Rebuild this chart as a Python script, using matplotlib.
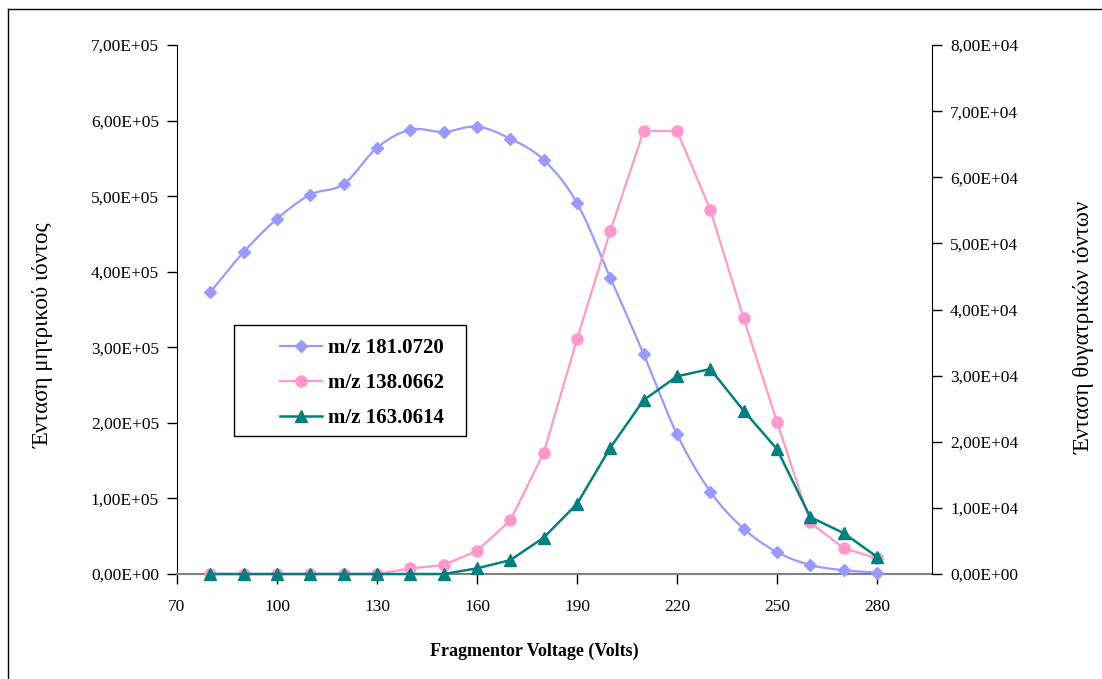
import numpy as np
import matplotlib
matplotlib.use("Agg")
import matplotlib.pyplot as plt
from matplotlib.lines import Line2D
from matplotlib.patches import Rectangle
from matplotlib.ticker import FuncFormatter

plt.rcParams['font.family'] = ['Liberation Serif', 'DejaVu Serif']

# Fragmentor voltage (V)
voltage = [80, 90, 100, 110, 120, 130, 140, 150, 160, 170, 180,
           190, 200, 210, 220, 230, 240, 250, 260, 270, 280]

# Parent ion intensity (left axis)
parent_181 = [3.73e5, 4.26e5, 4.70e5, 5.02e5, 5.16e5, 5.64e5, 5.88e5, 5.85e5,
              5.92e5, 5.76e5, 5.48e5, 4.91e5, 3.92e5, 2.91e5, 1.85e5, 1.09e5,
              0.60e5, 0.29e5, 0.12e5, 0.05e5, 0.02e5]

# Daughter ion intensities (right axis)
daughter_138 = [0, 0, 0, 0, 0, 0, 860, 1360, 3500, 8100, 18300, 35500,
                51900, 67000, 67000, 55100, 38700, 23000, 7800, 3900, 2400]
daughter_163 = [0, 0, 0, 0, 0, 0, 0, 0, 860, 2100, 5500, 10600, 19100,
                26300, 29900, 31000, 24700, 18900, 8600, 6200, 2600]

labels = ["m/z 181.0720", "m/z 138.0662", "m/z 163.0614"]
colors = ["#9999FF", "#FF99CC", "#008080"]

W, H = 1102, 679


def smooth_curve(x, y, n=20):
    """Catmull-Rom spline through the points (Excel-style smoothed line)."""
    x = np.asarray(x, float)
    y = np.asarray(y, float)
    px = np.concatenate([[2 * x[0] - x[1]], x, [2 * x[-1] - x[-2]]])
    py = np.concatenate([[2 * y[0] - y[1]], y, [2 * y[-1] - y[-2]]])
    xs, ys = [], []
    t = np.linspace(0, 1, n, endpoint=False)
    for i in range(1, len(px) - 2):
        for P, out in ((px, xs), (py, ys)):
            p0, p1, p2, p3 = P[i - 1], P[i], P[i + 1], P[i + 2]
            out.extend(0.5 * ((2 * p1) + (-p0 + p2) * t
                              + (2 * p0 - 5 * p1 + 4 * p2 - p3) * t ** 2
                              + (-p0 + 3 * p1 - 3 * p2 + p3) * t ** 3))
    xs.append(x[-1])
    ys.append(y[-1])
    return np.array(xs), np.array(ys)


def sci_comma(v, pos):
    s = "%.2E" % v
    mant, exp = s.split("E")
    return "%sE%s%02d" % (mant.replace(".", ","), exp[0], abs(int(exp)))


fig = plt.figure(figsize=(W / 100, H / 100), dpi=100)
ax1 = fig.add_axes([0.1606, 0.1546, 0.8457 - 0.1606, 0.9337 - 0.1546])
ax2 = ax1.twinx()

# Parent ion: smoothed line with diamond markers
sx, sy = smooth_curve(voltage, parent_181)
ax1.plot(sx, sy, color=colors[0], lw=1.6, clip_on=False, zorder=2)
ax1.plot(voltage, parent_181, ls="none", marker="D", ms=6.5, color=colors[0],
         clip_on=False, zorder=3)

# Daughter ions
ax2.plot(voltage, daughter_138, color=colors[1], lw=1.6, marker="o", ms=8,
         clip_on=False, zorder=3)
ax2.plot(voltage, daughter_163, color=colors[2], lw=1.8, marker="^", ms=8.5,
         clip_on=False, zorder=4)

ax1.set_xlim(70, 296.5)
ax1.set_xticks(np.arange(70, 281, 30))
ax1.set_ylim(0, 7e5)
ax1.set_yticks(np.arange(0, 7.01e5, 1e5))
ax2.set_ylim(0, 8e4)
ax2.set_yticks(np.arange(0, 8.01e4, 1e4))
ax1.yaxis.set_major_formatter(FuncFormatter(sci_comma))
ax2.yaxis.set_major_formatter(FuncFormatter(sci_comma))

for ax in (ax1, ax2):
    ax.spines['top'].set_visible(False)
    ax.tick_params(labelsize=12.5, length=7, width=1, color="#000000",
                   direction="out", pad=6)
    ax.set_facecolor("none")
ax1.spines['right'].set_visible(False)
ax2.spines['left'].set_visible(False)
ax2.spines['bottom'].set_visible(False)
ax1.spines['bottom'].set_color("#808080")
ax1.spines['bottom'].set_linewidth(1.5)
ax1.tick_params(axis="x", pad=11)

ax1.set_xlabel("Fragmentor Voltage (Volts)", fontsize=13, fontweight="bold")
ax1.xaxis.set_label_coords(0.473, -0.13)
ax1.set_ylabel("Ένταση μητρικού ιόντος", fontsize=16.5)
ax2.set_ylabel("Ένταση θυγατρικών ιόντων", fontsize=16.5)
ax1.yaxis.set_label_coords(-0.163, 0.452)
ax2.yaxis.set_label_coords(1.188, 0.466)

# Legend: framed box with entries placed inside it
box_l, box_t, box_r, box_b = 234, 325, 466, 436
fig.add_artist(Rectangle((box_l / W, 1 - box_b / H), (box_r - box_l) / W,
                         (box_b - box_t) / H, transform=fig.transFigure,
                         facecolor="white", edgecolor="#000000", lw=1.0,
                         zorder=9))
handles = [
    Line2D([], [], color=colors[0], lw=1.6, marker="D", ms=6.5),
    Line2D([], [], color=colors[1], lw=1.6, marker="o", ms=8),
    Line2D([], [], color=colors[2], lw=1.8, marker="^", ms=8.5),
]
leg = fig.legend(handles, labels, loc="center left",
                 bbox_to_anchor=(280 / W, 1 - 383 / H), frameon=False,
                 handlelength=2.0, labelspacing=0.72, borderpad=0,
                 borderaxespad=0, handletextpad=0.3,
                 prop={"weight": "bold", "size": 15})
leg.set_zorder(10)

# Outer frame lines along the left and top edges
fig.add_artist(Line2D([8 / W, 8 / W], [0, 1 - 9 / H],
                      transform=fig.transFigure, color="black", lw=1))
fig.add_artist(Line2D([8 / W, 1], [1 - 9 / H, 1 - 9 / H],
                      transform=fig.transFigure, color="black", lw=1))

fig.savefig("out.png", dpi=100)
